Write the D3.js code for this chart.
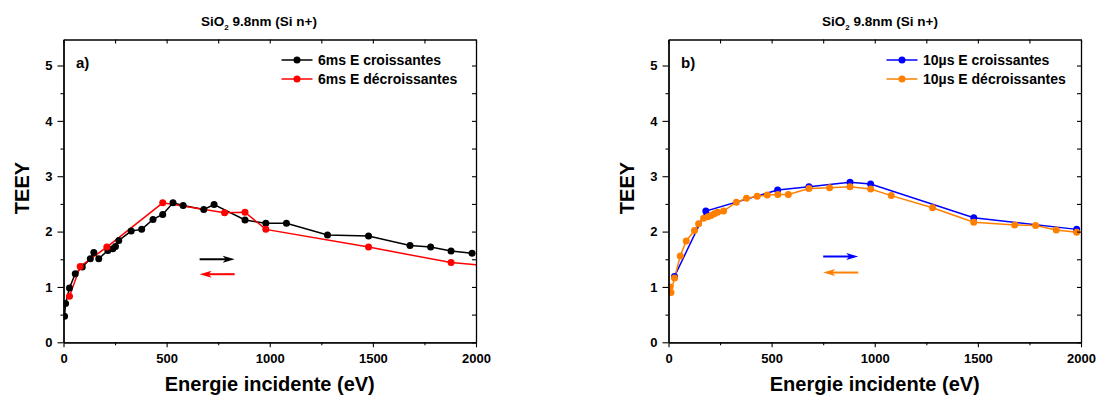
<!DOCTYPE html>
<html><head><meta charset="utf-8">
<script src="https://cdn.jsdelivr.net/npm/d3@7"></script>
<style>
body{margin:0;background:#fff}
text{font-family:"Liberation Sans",Arial,sans-serif;font-weight:bold;fill:#000}
</style></head><body>
<svg id="c" width="1097" height="396"></svg>
<script>
// ---------- data ----------
const xTicks = [0, 500, 1000, 1500, 2000];
const xMinor = [250, 750, 1250, 1750];
const yTicks = [0, 1, 2, 3, 4, 5];
const yMinor = [0.5, 1.5, 2.5, 3.5, 4.5];

// panel a) 6 ms
const eA_up = [5, 10, 29, 57, 91, 130, 147, 171, 215, 239, 252, 268, 328, 379, 434, 481, 531, 580, 680, 730, 880, 981, 1081, 1280, 1479, 1680, 1780, 1879, 1981];
const tA_up = [0.47, 0.70, 0.98, 1.24, 1.36, 1.51, 1.62, 1.51, 1.66, 1.69, 1.73, 1.84, 2.01, 2.04, 2.22, 2.31, 2.52, 2.47, 2.40, 2.49, 2.21, 2.15, 2.15, 1.94, 1.92, 1.75, 1.72, 1.65, 1.61];
const eA_down = [29, 81, 210, 481, 781, 880, 981, 1479, 1879, 2100];
const tA_down = [0.83, 1.37, 1.72, 2.52, 2.34, 2.35, 2.04, 1.72, 1.44, 1.37];

// panel b) 10 µs
const eB_up = [29, 181, 529, 681, 880, 980, 1480, 1979];
const tB_up = [1.19, 2.37, 2.75, 2.81, 2.89, 2.86, 2.25, 2.04];
const eB_down = [8, 12, 29, 57, 86, 126, 146, 170, 191, 206, 222, 238, 267, 329, 378, 430, 479, 530, 581, 681, 781, 880, 980, 1080, 1280, 1480, 1679, 1780, 1880, 1979];
const tB_down = [1.00, 0.90, 1.16, 1.56, 1.83, 2.02, 2.14, 2.24, 2.27, 2.29, 2.32, 2.35, 2.37, 2.53, 2.60, 2.64, 2.66, 2.67, 2.67, 2.78, 2.79, 2.81, 2.77, 2.65, 2.43, 2.17, 2.12, 2.11, 2.03, 1.99];

// direction arrows (energy span, TEEY level)
const arrowsA = [[660, 830, 1.50], [830, 660, 1.23]];
const arrowsB = [[750, 920, 1.55], [920, 750, 1.26]];

const xLabel = "Energie incidente (eV)";
const yLabel = "TEEY";

const panels = [
  {left: 63.5, right: 476, titleX: 259, label: "a)", arrows: arrowsA, series: [
    {name: "6ms E croissantes", e: eA_up, t: tA_up, color: "#000000"},
    {name: "6ms E décroissantes", e: eA_down, t: tA_down, color: "#ff0000"}]},
  {left: 668.5, right: 1081, titleX: 880, label: "b)", arrows: arrowsB, series: [
    {name: "10µs E croissantes", e: eB_up, t: tB_up, color: "#0000ff"},
    {name: "10µs E décroissantes", e: eB_down, t: tB_down, color: "#ff8000"}]}
];

const svg = d3.select("#c");
const plotTop = 39.5, plotBottom = 342.3;
const defs = svg.append("defs");
const FONT = '"Liberation Sans",Arial,sans-serif';

panels.forEach((p, pi) => {
  const x = d3.scaleLinear().domain([0, 2000]).range([p.left, p.right]);
  const y = d3.scaleLinear().domain([0, 5.47]).range([plotBottom, plotTop]);
  const g = svg.append("g");
  const cx = (p.left + p.right) / 2;

  // title
  const tt = g.append("text").attr("x", p.titleX).attr("y", 26).attr("text-anchor", "middle").style("font-size", "13.5px");
  tt.append("tspan").text("SiO");
  tt.append("tspan").text("2").attr("dy", 3.5).style("font-size", "8px");
  tt.append("tspan").text(" 9.8nm (Si n+)").attr("dy", -3.5);

  // clip
  defs.append("clipPath").attr("id", "clip" + pi).append("rect")
    .attr("x", p.left).attr("y", plotTop).attr("width", p.right - p.left).attr("height", plotBottom - plotTop);

  // data
  const dg = g.append("g").attr("clip-path", `url(#clip${pi})`);
  p.series.forEach(s => {
    const pts = s.e.map((e, i) => [e, s.t[i]]);
    dg.append("path").datum(pts)
      .attr("d", d3.line().x(d => x(d[0])).y(d => y(d[1])))
      .attr("fill", "none").attr("stroke", s.color).attr("stroke-width", 1.5);
  });
  p.series.forEach(s => {
    const pts = s.e.map((e, i) => [e, s.t[i]]);
    dg.selectAll(null).data(pts).enter().append("circle")
      .attr("cx", d => x(d[0])).attr("cy", d => y(d[1])).attr("r", 3.5).attr("fill", s.color);
  });

  // axes
  const ax = (gen, tr) => { const a = g.append("g").attr("transform", tr).call(gen);
    a.selectAll("text").style("font-size", "13px").style("font-family", FONT).style("font-weight", "bold");
    a.selectAll("line").attr("stroke", "#000").attr("stroke-width", 1.1);
    a.select(".domain").attr("stroke", "#000").attr("stroke-width", 1.3); return a; };

  ax(d3.axisBottom(x).tickValues(xMinor).tickSize(3).tickSizeOuter(0).tickFormat(""), `translate(0,${plotBottom})`);
  ax(d3.axisBottom(x).tickValues(xTicks).tickSize(5).tickSizeOuter(0).tickPadding(6).tickFormat(d3.format("d")), `translate(0,${plotBottom})`);
  ax(d3.axisTop(x).tickValues(xTicks.concat(xMinor)).tickSize(-4).tickSizeOuter(0).tickFormat(""), `translate(0,${plotTop})`);
  ax(d3.axisLeft(y).tickValues(yMinor).tickSize(3).tickSizeOuter(0).tickFormat(""), `translate(${p.left},0)`);
  ax(d3.axisLeft(y).tickValues(yTicks).tickSize(6).tickSizeOuter(0).tickPadding(5).tickFormat(d3.format("d")), `translate(${p.left},0)`);
  ax(d3.axisRight(y).tickValues(yTicks.concat(yMinor)).tickSize(-4).tickSizeOuter(0).tickFormat(""), `translate(${p.right},0)`);

  // labels
  g.append("text").attr("x", cx).attr("y", 391).attr("text-anchor", "middle").style("font-size", "20px").text(xLabel);
  g.append("text").attr("transform", `translate(${p.left - 35},188) rotate(-90)`)
    .attr("text-anchor", "middle").style("font-size", "20px").text(yLabel);
  g.append("text").attr("x", p.left + 12.5).attr("y", 68.3).style("font-size", "15px").text(p.label);

  // legend
  const lx = p.left + 218;
  p.series.forEach((s, i) => {
    const ly = 60 + i * 19;
    g.append("line").attr("x1", lx).attr("x2", lx + 31).attr("y1", ly).attr("y2", ly).attr("stroke", s.color).attr("stroke-width", 1.5);
    g.append("circle").attr("cx", lx + 15.5).attr("cy", ly).attr("r", 3.5).attr("fill", s.color);
    g.append("text").attr("x", lx + 36.5).attr("y", ly + 5).style("font-size", "14px").text(s.name);
  });

  // direction arrows
  p.series.forEach((s, i) => {
    const [e0, e1, lvl] = p.arrows[i];
    const from = x(e0), to = x(e1), yy = y(lvl);
    const dir = Math.sign(to - from);
    g.append("line").attr("x1", from).attr("x2", to - dir * 8).attr("y1", yy).attr("y2", yy)
      .attr("stroke", s.color).attr("stroke-width", 2);
    g.append("path").attr("d", `M${to},${yy} L${to - dir * 12},${yy - 3.5} L${to - dir * 9},${yy} L${to - dir * 12},${yy + 3.5} Z`)
      .attr("fill", s.color);
  });
});
</script></body></html>
